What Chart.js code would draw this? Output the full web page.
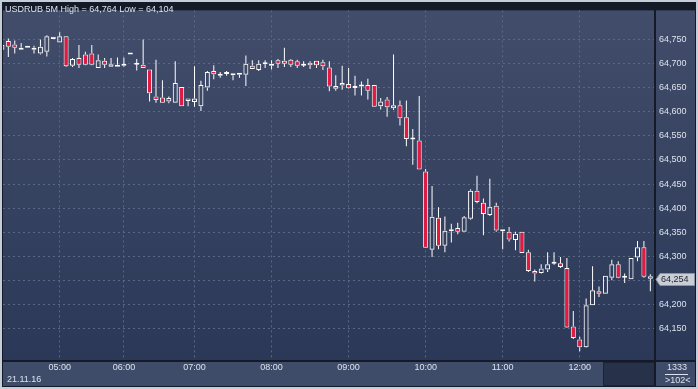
<!DOCTYPE html>
<html>
  <head>
    <title>USDRUB 5M</title>
    <script src="https://cdn.jsdelivr.net/npm/chart.js"></script>
    <style>
      body {
        margin: 0;
        background: #c5cdd8;
      }
    </style>
  </head>
  <body>
    <canvas id="candleChart" width="698" height="389"></canvas>

    <script>
      var symbol = "USDRUB 5M";
      var dateLabel = "21.11.16";
      var totalBars = 1333;
      var hourIdx = [9, 19, 30, 42, 54, 66, 78, 90];
      var hourLabels = ["05:00", "06:00", "07:00", "08:00", "09:00", "10:00", "11:00", "12:00"];
      var priceTicks = [64.15, 64.2, 64.25, 64.3, 64.35, 64.4, 64.45, 64.5, 64.55, 64.6, 64.65, 64.7, 64.75];

      // 5 minute candles, oldest first
      var opens = [
        64.728, 64.746, 64.739, 64.728, 64.732, 64.728, 64.72, 64.724, 64.75, 64.743,
        64.756, 64.695, 64.711, 64.718, 64.72, 64.69, 64.705, 64.693, 64.693, 64.695,
        64.718, 64.697, 64.697, 64.687, 64.631, 64.629, 64.621, 64.618, 64.651, 64.627,
        64.62, 64.611, 64.65, 64.684, 64.674, 64.678, 64.679, 64.676, 64.676, 64.695,
        64.686, 64.698, 64.695, 64.706, 64.705, 64.707, 64.704, 64.695, 64.701, 64.705,
        64.702, 64.691, 64.647, 64.654, 64.657, 64.649, 64.652, 64.655, 64.655, 64.611,
        64.625, 64.607, 64.613, 64.588, 64.542, 64.54, 64.476, 64.314, 64.38, 64.322,
        64.352, 64.359, 64.351, 64.378, 64.436, 64.411, 64.386, 64.405, 64.352, 64.351,
        64.334, 64.351, 64.309, 64.27, 64.266, 64.273, 64.285, 64.286, 64.276, 64.155,
        64.128, 64.112, 64.199, 64.228, 64.223, 64.256, 64.284, 64.256, 64.253, 64.298,
        64.319, 64.259
      ];
      var highs = [
        64.74, 64.751, 64.747, 64.742, 64.732, 64.736, 64.749, 64.758, 64.755, 64.764,
        64.756, 64.711, 64.738, 64.724, 64.738, 64.718, 64.711, 64.711, 64.712, 64.712,
        64.718, 64.709, 64.749, 64.687, 64.707, 64.665, 64.631, 64.704, 64.651, 64.627,
        64.694, 64.664, 64.684, 64.696, 64.682, 64.684, 64.679, 64.679, 64.716, 64.706,
        64.706, 64.706, 64.706, 64.709, 64.732, 64.709, 64.707, 64.704, 64.704, 64.705,
        64.707, 64.704, 64.675, 64.695, 64.69, 64.674, 64.662, 64.668, 64.655, 64.628,
        64.63, 64.718, 64.623, 64.623, 64.564, 64.632, 64.481, 64.446, 64.402, 64.383,
        64.368, 64.37, 64.384, 64.439, 64.467, 64.42, 64.461, 64.411, 64.353, 64.361,
        64.351, 64.351, 64.314, 64.273, 64.284, 64.309, 64.309, 64.299, 64.297, 64.187,
        64.134, 64.213, 64.28, 64.238, 64.26, 64.293, 64.29, 64.265, 64.297, 64.332,
        64.332, 64.263
      ];
      var lows = [
        64.726, 64.713, 64.72, 64.728, 64.732, 64.72, 64.718, 64.714, 64.75, 64.743,
        64.692, 64.692, 64.69, 64.696, 64.696, 64.69, 64.69, 64.693, 64.693, 64.693,
        64.718, 64.685, 64.69, 64.621, 64.618, 64.618, 64.617, 64.618, 64.611, 64.611,
        64.61, 64.601, 64.643, 64.667, 64.67, 64.674, 64.665, 64.67, 64.653, 64.688,
        64.684, 64.69, 64.687, 64.69, 64.692, 64.692, 64.69, 64.692, 64.688, 64.69,
        64.686, 64.642, 64.643, 64.645, 64.647, 64.633, 64.633, 64.625, 64.61, 64.604,
        64.589, 64.603, 64.571, 64.528, 64.49, 64.48, 64.318, 64.299, 64.315, 64.309,
        64.329, 64.346, 64.351, 64.376, 64.41, 64.344, 64.384, 64.351, 64.315, 64.331,
        64.313, 64.307, 64.268, 64.248, 64.265, 64.268, 64.283, 64.276, 64.152, 64.129,
        64.104, 64.111, 64.199, 64.216, 64.223, 64.251, 64.255, 64.245, 64.253, 64.29,
        64.256, 64.228
      ];
      var closes = [
        64.738, 64.734, 64.732, 64.732, 64.732, 64.732, 64.734, 64.756, 64.755, 64.756,
        64.694, 64.709, 64.697, 64.697, 64.697, 64.706, 64.697, 64.698, 64.697, 64.697,
        64.718, 64.697, 64.69, 64.638, 64.624, 64.618, 64.628, 64.659, 64.611, 64.622,
        64.627, 64.655, 64.682, 64.677, 64.675, 64.678, 64.675, 64.679, 64.699, 64.688,
        64.699, 64.698, 64.699, 64.699, 64.699, 64.697, 64.695, 64.695, 64.696, 64.696,
        64.694, 64.652, 64.653, 64.659, 64.648, 64.649, 64.652, 64.643, 64.61, 64.621,
        64.609, 64.613, 64.586, 64.543, 64.542, 64.48, 64.318, 64.382, 64.322, 64.353,
        64.356, 64.351, 64.381, 64.436, 64.413, 64.388, 64.403, 64.354, 64.352, 64.335,
        64.347, 64.307, 64.27, 64.265, 64.275, 64.284, 64.285, 64.278, 64.153, 64.131,
        64.112, 64.199, 64.23, 64.223, 64.26, 64.284, 64.256, 64.256, 64.297, 64.319,
        64.258, 64.254
      ];

      const fmt = (v) => v.toFixed(3).replace(".", ",");
      const red = "#e8173f";
      const textColor = "#dce3ee";
      const font = "9px 'Liberation Sans', Arial, sans-serif";

      const bodies = opens.map((o, i) => ({ x: i, y: [o, closes[i]] }));
      const upperWicks = opens.map((o, i) => ({ x: i, y: [Math.max(o, closes[i]), highs[i]] }));
      const lowerWicks = opens.map((o, i) => ({ x: i, y: [lows[i], Math.min(o, closes[i])] }));

      const frame = {
        id: "frame",
        beforeDraw(chart) {
          const { ctx, chartArea: a, width, height } = chart;
          ctx.save();
          ctx.fillStyle = "#c5cdd8";
          ctx.fillRect(0, 0, width, height);
          ctx.fillStyle = "#141a27";
          ctx.fillRect(2, 2, width - 4, height - 4);
          const g = ctx.createLinearGradient(0, a.top, 0, a.bottom);
          g.addColorStop(0, "#414d6a");
          g.addColorStop(1, "#2b3857");
          ctx.fillStyle = g;
          ctx.fillRect(a.left, a.top, a.right - a.left, a.bottom - a.top);
          ctx.fillRect(a.right + 2, a.top, width - 3 - a.right - 2, a.bottom - a.top);
          ctx.fillStyle = "#3e4b69";
          ctx.fillRect(a.left, a.bottom + 2, a.right - a.left, height - 3 - a.bottom - 2);
          ctx.fillRect(a.right + 2, a.bottom + 2, width - 3 - a.right - 2, height - 3 - a.bottom - 2);
          ctx.fillStyle = "#1c2335";
          ctx.fillRect(a.right - 51, a.bottom + 2, 51, height - 3 - a.bottom - 2);
          ctx.fillStyle = "#27314a";
          ctx.fillRect(a.right - 50, a.bottom + 3, 50, height - 5 - a.bottom - 2);
          ctx.restore();
        },
        afterDraw(chart) {
          const { ctx, chartArea: a, width } = chart;
          ctx.save();
          ctx.font = font;
          ctx.fillStyle = textColor;
          ctx.textBaseline = "middle";
          const hi = Math.max(...highs);
          const lo = Math.min(...lows);
          ctx.fillText(symbol + " High = " + fmt(hi) + " Low = " + fmt(lo), 5, 10);
          ctx.fillText(dateLabel, 7, 380);

          // bar counter box
          ctx.textAlign = "right";
          ctx.fillText(String(totalBars), 687, 368);
          ctx.fillRect(665, 374, 23, 1);
          ctx.textAlign = "left";
          ctx.fillText(">" + opens.length + "<", 665, 381);

          // last price marker
          const last = closes[closes.length - 1];
          const y = Math.round(chart.scales.y.getPixelForValue(last)) + 0.5;
          ctx.beginPath();
          ctx.moveTo(a.right + 2, y);
          ctx.lineTo(a.right + 6, y - 6);
          ctx.lineTo(width - 3.5, y - 6);
          ctx.lineTo(width - 3.5, y + 6);
          ctx.lineTo(a.right + 6, y + 6);
          ctx.closePath();
          ctx.fillStyle = "#c9ced6";
          ctx.fill();
          ctx.strokeStyle = "#8b94a4";
          ctx.lineWidth = 1;
          ctx.stroke();
          ctx.fillStyle = "#1e2330";
          ctx.fillText(fmt(last), a.right + 7, y + 0.5);
          ctx.restore();
        },
      };

      new Chart(document.getElementById("candleChart"), {
        type: "bar",
        data: {
          datasets: [
            {
              data: bodies,
              backgroundColor: (c) => (closes[c.dataIndex] < opens[c.dataIndex] ? red : "rgba(0,0,0,0)"),
              borderColor: "#ffffff",
              borderWidth: 1,
              borderSkipped: false,
              barThickness: 5,
              maxBarThickness: 5,
              minBarLength: 2,
            },
            {
              data: upperWicks,
              backgroundColor: "#ffffff",
              borderWidth: 0,
              barThickness: 1,
              maxBarThickness: 1,
            },
            {
              data: lowerWicks,
              backgroundColor: "#ffffff",
              borderWidth: 0,
              barThickness: 1,
              maxBarThickness: 1,
            },
          ],
        },
        options: {
          responsive: false,
          animation: false,
          layout: { padding: { left: 3, top: 3, right: 3, bottom: 3 } },
          datasets: { bar: { grouped: false, inflateAmount: 0, clip: 0 } },
          plugins: { legend: { display: false }, tooltip: { enabled: false } },
          scales: {
            x: {
              type: "linear",
              min: 0.17,
              max: 101.57,
              offset: false,
              afterFit: (s) => { s.height = 26; },
              afterBuildTicks: (s) => { s.ticks = hourIdx.map((v) => ({ value: v })); },
              grid: { color: "#5a6886", drawTicks: false, offset: false },
              border: { display: false, dash: [2, 3] },
              ticks: {
                color: textColor,
                font: { family: "'Liberation Sans', Arial", size: 9 },
                padding: 2,
                maxRotation: 0,
                autoSkip: false,
                callback: (v) => hourLabels[hourIdx.indexOf(v)],
              },
            },
            y: {
              position: "right",
              min: 64.0857,
              max: 64.8094,
              afterFit: (s) => { s.width = 41; },
              afterBuildTicks: (s) => { s.ticks = priceTicks.map((v) => ({ value: v })); },
              grid: { color: "#5a6886", drawTicks: false },
              border: { display: false, dash: [2, 3] },
              ticks: {
                color: textColor,
                font: { family: "'Liberation Sans', Arial", size: 9 },
                padding: 5,
                callback: (v) => fmt(v),
              },
            },
          },
        },
        plugins: [frame],
      });
    </script>
  </body>
</html>
